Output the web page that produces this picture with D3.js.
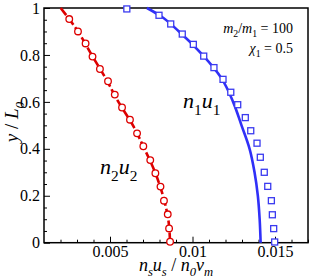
<!DOCTYPE html>
<html>
<head>
<meta charset="utf-8">
<script src="https://cdn.jsdelivr.net/npm/d3@7"></script>
<style>
  body { margin: 0; background: #fff; }
  text { font-family: "Liberation Serif", "DejaVu Serif", serif; }
</style>
</head>
<body>
<div id="chart"></div>
<script>
// n1u1 model curve (solid blue)
const blueLineX = [0.00724, 0.00800, 0.00918, 0.01061, 0.01176, 0.01246, 0.01297, 0.01346, 0.01376, 0.01396, 0.01407, 0.01413];
const blueLineY = [1.0, 0.969, 0.9, 0.8, 0.7, 0.6, 0.5, 0.4, 0.3, 0.2, 0.1, 0.0];
// n1u1 simulation (blue squares)
const blueSqX = [0.00602, 0.00797, 0.00868, 0.00938, 0.01005, 0.01068, 0.01130, 0.01185, 0.01232, 0.01274, 0.01320, 0.01353, 0.01391, 0.01411, 0.01435, 0.01456, 0.01478, 0.01484, 0.01492, 0.01498];
const blueSqY = [0.996, 0.969, 0.932, 0.889, 0.845, 0.795, 0.746, 0.696, 0.641, 0.588, 0.533, 0.477, 0.424, 0.364, 0.300, 0.240, 0.179, 0.119, 0.060, 0.003];
// n2u2 model curve (dashed red)
const redLineX = [0.00201, 0.00306, 0.00389, 0.00474, 0.00551, 0.00639, 0.00709, 0.00773, 0.00821, 0.00853, 0.00864];
const redLineY = [1.0, 0.9, 0.8, 0.7, 0.6, 0.5, 0.4, 0.3, 0.2, 0.1, 0.0];
// n2u2 simulation (red circles)
const redCircX = [0.00253, 0.00306, 0.00352, 0.00394, 0.00439, 0.00488, 0.00529, 0.00573, 0.00621, 0.00664, 0.00702, 0.00744, 0.00775, 0.00806, 0.00827, 0.00850, 0.00858, 0.00864];
const redCircY = [0.953, 0.900, 0.849, 0.793, 0.740, 0.688, 0.631, 0.576, 0.524, 0.466, 0.411, 0.352, 0.296, 0.239, 0.179, 0.121, 0.061, 0.004];

const xMajor = [0.005, 0.01, 0.015];
const xMajorLabels = ["0.005", "0.01", "0.015"];
const yMajor = [0, 0.2, 0.4, 0.6, 0.8, 1];
const yMajorLabels = ["0", "0.2", "0.4", "0.6", "0.8", "1"];

const width = 315, height = 280;
const m = {left: 44, top: 8, right: 7, bottom: 37.3};

const svg = d3.select('#chart').append('svg')
    .attr('width', width).attr('height', height);

const x = d3.scaleLinear().domain([0.001, 0.017]).range([m.left, width - m.right]);
const y = d3.scaleLinear().domain([0, 1]).range([height - m.bottom, m.top]);

const zip = (xs, ys) => xs.map((v, i) => [v, ys[i]]);

// minor + major ticks, pointing inward
const xMinor = d3.range(0.002, 0.0170001, 0.001).filter(v => !xMajor.some(t => Math.abs(t - v) < 1e-9));
const yMinor = d3.range(0.05, 1, 0.05).filter(v => !yMajor.some(t => Math.abs(t - v) < 1e-9));

svg.append('g')
    .attr('transform', `translate(0,${y(0)})`)
    .call(d3.axisBottom(x).tickValues(xMinor).tickSize(-3).tickFormat(''))
    .call(g => g.select('.domain').remove());
svg.append('g')
    .attr('transform', `translate(0,${y(0)})`)
    .call(d3.axisBottom(x).tickValues(xMajor).tickSize(-6).tickPadding(3)
        .tickFormat((d, i) => xMajorLabels[i]))
    .call(g => g.select('.domain').remove())
    .call(g => g.selectAll('text').attr('font-size', 16).attr('font-family', '"Liberation Serif", serif'));

svg.append('g')
    .attr('transform', `translate(${x(0.001)},0)`)
    .call(d3.axisLeft(y).tickValues(yMinor).tickSize(-3).tickFormat(''))
    .call(g => g.select('.domain').remove());
svg.append('g')
    .attr('transform', `translate(${x(0.001)},0)`)
    .call(d3.axisLeft(y).tickValues(yMajor).tickSize(-6).tickPadding(4)
        .tickFormat((d, i) => yMajorLabels[i]))
    .call(g => g.select('.domain').remove())
    .call(g => g.selectAll('text').attr('font-size', 16).attr('font-family', '"Liberation Serif", serif'));

svg.selectAll('.tick line').attr('stroke', '#000').attr('stroke-width', 1);

// frame
svg.append('rect')
    .attr('x', x(0.001)).attr('y', y(1))
    .attr('width', x(0.017) - x(0.001)).attr('height', y(0) - y(1))
    .attr('fill', 'none').attr('stroke', '#000').attr('stroke-width', 1.5);

const line = d3.line().x(d => x(d[0])).y(d => y(d[1])).curve(d3.curveMonotoneY);

const plot = svg.append('g').attr('class', 'plot-chart');

plot.append('path')
    .datum(zip(blueLineX, blueLineY))
    .attr('d', line)
    .attr('fill', 'none').attr('stroke', '#3030f8').attr('stroke-width', 2.6);

plot.append('path')
    .datum(zip(redLineX, redLineY))
    .attr('d', line)
    .attr('fill', 'none').attr('stroke', '#dd0000').attr('stroke-width', 2.6)
    .attr('stroke-dasharray', '9,3');

plot.selectAll('.sq')
    .data(zip(blueSqX, blueSqY))
    .join('rect')
    .attr('class', 'sq')
    .attr('x', d => x(d[0]) - 3).attr('y', d => y(d[1]) - 3)
    .attr('width', 6).attr('height', 6)
    .attr('fill', '#fff').attr('stroke', '#3a3af0').attr('stroke-width', 1.3);

plot.selectAll('.circ')
    .data(zip(redCircX, redCircY))
    .join('circle')
    .attr('class', 'circ')
    .attr('cx', d => x(d[0])).attr('cy', d => y(d[1]))
    .attr('r', 3.3)
    .attr('fill', '#fff').attr('stroke', '#dd0000').attr('stroke-width', 1.3);

// helper for math-like text with subscripts
function mathText(g, parts, size) {
    const t = g.append('text').attr('font-size', size);
    parts.forEach(p => {
        const ts = t.append('tspan').text(p.t);
        if (p.i) ts.attr('font-style', 'italic');
        if (p.sub) ts.attr('font-size', size * 0.7).attr('dy', size * 0.3);
        if (p.up) ts.attr('dy', -size * 0.3);
    });
    return t;
}

// axis titles
mathText(svg, [
    {t: 'n', i: 1}, {t: 's', i: 1, sub: 1}, {t: 'u', i: 1, up: 1}, {t: 's', i: 1, sub: 1},
    {t: ' / ', up: 1}, {t: 'n', i: 1}, {t: '0', i: 1, sub: 1}, {t: 'v', i: 1, up: 1}, {t: 'm', i: 1, sub: 1}
], 18).attr('x', 176).attr('y', 271).attr('text-anchor', 'middle');

mathText(svg, [
    {t: 'y', i: 1}, {t: ' / '}, {t: 'L', i: 1}, {t: '0', i: 1, sub: 1}
], 19).attr('text-anchor', 'middle')
    .attr('transform', 'translate(18,122) rotate(-90)');

// annotations
mathText(svg, [
    {t: 'm', i: 1}, {t: '2', sub: 1}, {t: '/', up: 1}, {t: 'm', i: 1}, {t: '1', sub: 1}, {t: ' = 100', up: 1}
], 14).attr('x', 293).attr('y', 33).attr('text-anchor', 'end');
mathText(svg, [
    {t: 'χ', i: 1}, {t: '1', sub: 1}, {t: ' = 0.5', up: 1}
], 14).attr('x', 293).attr('y', 53).attr('text-anchor', 'end');

mathText(svg, [
    {t: 'n', i: 1}, {t: '1', sub: 1}, {t: 'u', i: 1, up: 1}, {t: '1', sub: 1}
], 22).attr('x', 183).attr('y', 108);
mathText(svg, [
    {t: 'n', i: 1}, {t: '2', sub: 1}, {t: 'u', i: 1, up: 1}, {t: '2', sub: 1}
], 22).attr('x', 100).attr('y', 174);
</script>
</body>
</html>
